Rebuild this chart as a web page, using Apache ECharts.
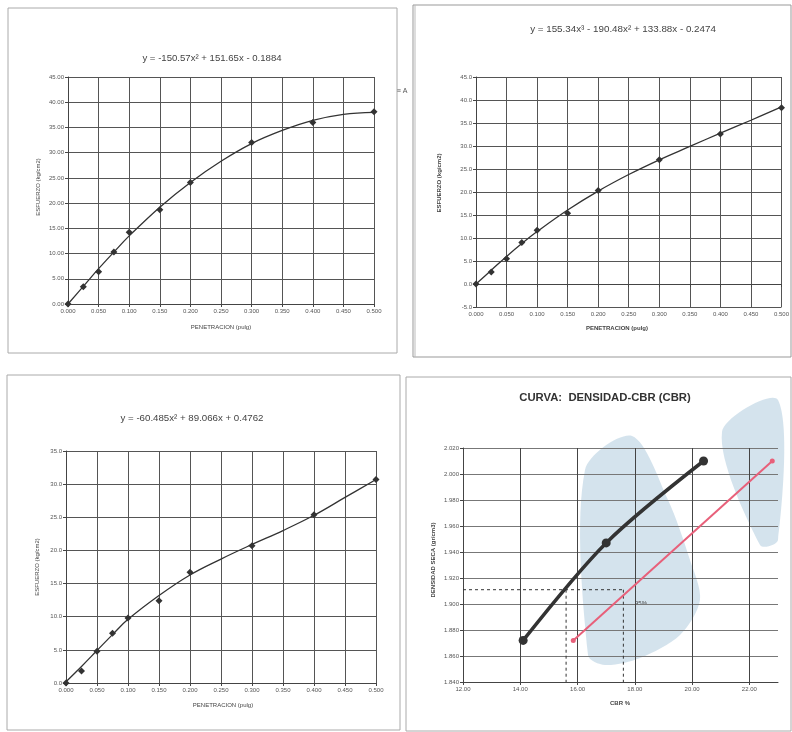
<!DOCTYPE html>
<html><head><meta charset="utf-8">
<script src="https://cdn.jsdelivr.net/npm/echarts@6/dist/echarts.min.js"></script>
<style>html,body{margin:0;padding:0;background:#fff}#c{width:792px;height:732px}</style>
</head><body><div id="c"></div>
<script>
// ---- data ----
const penetracion = [0, 0.025, 0.05, 0.075, 0.1, 0.15, 0.2, 0.3, 0.4, 0.5];
const esfuerzo1 = [0.0, 3.4, 6.4, 10.3, 14.2, 18.7, 24.1, 32.0, 36.0, 38.1];
const esfuerzo2 = [0.0, 2.6, 5.5, 9.0, 11.7, 15.4, 20.3, 27.0, 32.6, 38.3];
const esfuerzo3 = [0.0, 1.8, 4.8, 7.5, 9.8, 12.4, 16.7, 20.7, 25.4, 30.7];
const curvaX = [0, 0.025, 0.05, 0.075, 0.1, 0.15, 0.2, 0.25, 0.3, 0.35, 0.4, 0.45, 0.5];
const tendencia1 = [0.0, 3.5, 7.0, 10.3, 13.5, 19.2, 24.1, 28.3, 31.8, 34.4, 36.4, 37.6, 38.0];
const tendencia2 = [0.0, 3.0, 6.0, 8.8, 11.4, 16.1, 20.2, 23.8, 27.0, 29.9, 32.8, 35.6, 38.5];
const tendencia3 = [0.2, 2.5, 4.9, 7.3, 9.6, 13.2, 16.3, 18.7, 20.9, 23.0, 25.3, 28.0, 30.7];
const cbr = [14.1, 17.0, 20.4];
const densidad = [1.872, 1.947, 2.010];
const cbrCorregido = [15.85, 22.8];
const densidadCorregida = [1.872, 2.010];
const densidad95 = 1.911;
const cbr95 = [15.6, 17.6];
const titulos = [
  'y = -150.57x\u00B2 + 151.65x - 0.1884',
  'y = 155.34x\u00B3 - 190.48x\u00B2 + 133.88x - 0.2474',
  'y = -60.485x\u00B2 + 89.066x + 0.4762',
  'CURVA:  DENSIDAD-CBR (CBR)'
];
const ejeY = 'ESFUERZO (kg/cm2)';
const ejeX = 'PENETRACION (pulg)';
const ejeY4 = 'DENSIDAD SECA (gr/cm3)';
const ejeX4 = 'CBR %';

// ---- build ----
const FONT = '"Liberation Sans", Arial, sans-serif';
const pair = (xs, ys) => xs.map((x, i) => [x, ys[i]]);
function xAx(gi, min, max, interval, dec, extra) {
  return Object.assign({
    type: 'value', gridIndex: gi, min, max, interval,
    axisLine: { lineStyle: { color: '#444', width: 1 } },
    axisTick: { show: true, length: 3, lineStyle: { color: '#444' } },
    axisLabel: { fontSize: 6, color: '#555', fontFamily: FONT, margin: 4,
      formatter: v => v.toFixed(dec) },
    splitLine: { show: true, lineStyle: { color: '#555', width: 1 } }
  }, extra || {});
}
function yAx(gi, min, max, interval, dec, extra) {
  return Object.assign({
    type: 'value', gridIndex: gi, min, max, interval,
    axisLine: { show: true, lineStyle: { color: '#444', width: 1 } },
    axisTick: { show: true, length: 3, lineStyle: { color: '#444' } },
    axisLabel: { fontSize: 6, color: '#555', fontFamily: FONT, margin: 4,
      formatter: v => v.toFixed(dec) },
    splitLine: { show: true, lineStyle: { color: '#555', width: 1 } }
  }, extra || {});
}
const pts = (gi, xs, ys) => ({
  type: 'line', xAxisIndex: gi, yAxisIndex: gi, data: pair(xs, ys),
  symbol: 'diamond', symbolSize: 7, lineStyle: { width: 0, opacity: 0 },
  itemStyle: { color: '#333' }, z: 4, silent: true
});
const curve = (gi, xs, ys) => ({
  type: 'line', xAxisIndex: gi, yAxisIndex: gi, data: pair(xs, ys),
  smooth: 0.4, symbol: 'none', lineStyle: { color: '#333', width: 1.3 }, z: 3, silent: true
});
const dashed = (data) => ({
  type: 'line', xAxisIndex: 3, yAxisIndex: 3, data, symbol: 'none',
  lineStyle: { color: '#333', width: 1, type: [3, 3] }, z: 3, silent: true
});

function txt(x, y, s, size, opts) {
  return Object.assign({ type: 'text', x, y, style: Object.assign({
    text: s, fontSize: size, fill: '#444', fontFamily: FONT, align: 'center', verticalAlign: 'middle'
  }, (opts && opts.style) || {}) }, (opts && opts.el) || {});
}
function vtxt(x, y, s, size, weight) {
  return { type: 'text', x, y, rotation: Math.PI / 2, style: {
    text: s, fontSize: size, fill: '#444', fontFamily: FONT, align: 'center', verticalAlign: 'middle', fontWeight: weight || 'normal' } };
}
function box(x1, y1, x2, y2, color) {
  return { type: 'rect', shape: { x: x1, y: y1, width: x2 - x1, height: y2 - y1 },
    style: { fill: 'none', stroke: color || '#aaa', lineWidth: 1 }, z: -1 };
}
function wm(points) {
  return { type: 'polygon', shape: { points, smooth: 0.3 }, z: -2, silent: true,
    style: { fill: 'rgba(160,192,214,0.45)' } };
}

const option = {
  backgroundColor: '#fff',
  animation: false,
  grid: [
    { left: 68, top: 77, width: 306, height: 227 },
    { left: 476, top: 77, width: 307, height: 230 },
    { left: 66, top: 451, width: 310, height: 232 },
    { left: 463, top: 448, width: 315, height: 234 }
  ],
  xAxis: [
    xAx(0, 0, 0.5, 0.05, 3),
    xAx(1, 0, 0.5, 0.05, 3),
    xAx(2, 0, 0.5, 0.05, 3),
    xAx(3, 12, 23, 2, 2, { axisLabel: { fontSize: 6, color: '#555', fontFamily: FONT, margin: 4,
      showMaxLabel: false, formatter: v => v.toFixed(2) },
      splitLine: { show: true, showMaxLine: false, lineStyle: { color: '#444', width: 1 } } })
  ],
  yAxis: [
    yAx(0, 0, 45, 5, 2),
    yAx(1, -5, 45, 5, 1),
    yAx(2, 0, 35, 5, 1),
    yAx(3, 1.84, 2.02, 0.02, 3, { splitLine: { show: true, lineStyle: { color: '#777', width: 1 } } })
  ],
  series: [
    curve(0, curvaX, tendencia1), pts(0, penetracion, esfuerzo1),
    curve(1, curvaX, tendencia2), pts(1, penetracion, esfuerzo2),
    curve(2, curvaX, tendencia3), pts(2, penetracion, esfuerzo3),
    {
      type: 'line', xAxisIndex: 3, yAxisIndex: 3, data: pair(cbr, densidad), smooth: 0.3,
      symbol: 'circle', symbolSize: 9, lineStyle: { color: '#333', width: 3.5 },
      itemStyle: { color: '#333' }, z: 5, silent: true
    },
    {
      type: 'line', xAxisIndex: 3, yAxisIndex: 3, data: pair(cbrCorregido, densidadCorregida),
      symbol: 'circle', symbolSize: 5, lineStyle: { color: '#e8607a', width: 2 },
      itemStyle: { color: '#e8607a' }, z: 4, silent: true
    },
    dashed([[12, densidad95], [cbr95[1], densidad95]]),
    dashed([[cbr95[0], densidad95], [cbr95[0], 1.84]]),
    dashed([[cbr95[1], densidad95], [cbr95[1], 1.84]])
  ],
  graphic: [
    wm([[585, 470], [632, 436], [668, 500], [690, 560], [700, 600], [680, 635], [640, 658], [605, 665], [588, 655]]),
    wm([[722, 432], [778, 400], [778, 540], [760, 545]]),
    box(8, 8, 397, 353),
    box(413, 5, 791, 357, '#999'),
    { type: 'line', shape: { x1: 415, y1: 5, x2: 415, y2: 357 }, style: { stroke: '#bbb', lineWidth: 1 } },
    box(7, 375, 400, 730),
    box(406, 377, 791, 731),
    txt(212, 58, titulos[0], 9.6),
    txt(623, 29, titulos[1], 9.8),
    txt(192, 418, titulos[2], 9.7),
    txt(605, 398, titulos[3], 11.3, { style: { fontWeight: 'bold', fill: '#333' } }),
    vtxt(38, 187, ejeY, 6),
    vtxt(439, 183, ejeY, 6, 'bold'),
    vtxt(37, 567, ejeY, 6),
    vtxt(433, 560, ejeY4, 6, 'bold'),
    txt(221, 327, ejeX, 6),
    txt(617, 328, ejeX, 6, { style: { fontWeight: 'bold' } }),
    txt(223, 705, ejeX, 6),
    txt(620, 703, ejeX4, 6, { style: { fontWeight: 'bold' } }),
    txt(641, 603, '95%', 6),
    txt(402, 91, '\u2261 A', 7, { style: { fill: '#555' } })
  ]
};
const chart = echarts.init(document.getElementById('c'), null, { renderer: 'canvas' });
chart.setOption(option);
</script></body></html>
